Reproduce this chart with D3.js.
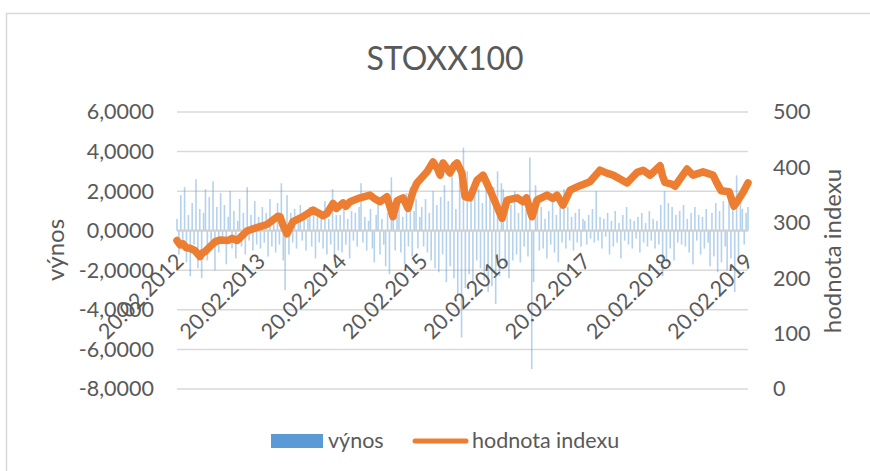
<!DOCTYPE html>
<meta charset='utf-8'>
<style>
    body { margin: 0; background: #fff; }
    text { font-family: Lato, 'Liberation Sans', sans-serif; fill: #595959; }
</style>
<body>
<div id='chart'></div>
<script src='https://d3js.org/d3.v7.min.js'></script>
<script>
    // tick labels
    const xTickLabels = [ '20.02.2012', '20.02.2013', '20.02.2014', '20.02.2015', '20.02.2016', '20.02.2017', '20.02.2018', '20.02.2019' ];
    const leftTicks = [ 6, 4, 2, 0, -2, -4, -6, -8 ];
    const rightTicks = [ 0, 100, 200, 300, 400, 500 ];

    // hodnota indexu
    const indexDates = [
        '2012-02-20', '2012-03-05', '2012-03-18', '2012-04-02', '2012-04-18', '2012-05-10', '2012-06-02', '2012-06-14',
        '2012-06-25', '2012-07-17', '2012-08-10', '2012-08-31', '2012-10-06', '2012-10-25', '2012-11-16', '2012-12-30',
        '2013-01-25', '2013-02-27', '2013-03-30', '2013-04-26', '2013-05-20', '2013-05-28', '2013-06-10', '2013-06-28',
        '2013-07-25', '2013-09-08', '2013-10-23', '2013-12-07', '2013-12-25', '2014-01-21', '2014-02-05', '2014-03-07',
        '2014-03-20', '2014-04-07', '2014-05-22', '2014-07-06', '2014-07-25', '2014-08-20', '2014-09-20', '2014-10-17',
        '2014-11-05', '2014-12-01', '2014-12-24', '2015-01-15', '2015-02-02', '2015-03-19', '2015-04-15', '2015-05-05',
        '2015-05-17', '2015-05-30', '2015-06-30', '2015-07-20', '2015-08-01', '2015-08-23', '2015-09-06', '2015-09-28',
        '2015-10-30', '2015-11-26', '2015-12-27', '2016-01-28', '2016-02-19', '2016-03-13', '2016-04-27', '2016-05-23',
        '2016-06-08', '2016-06-27', '2016-07-03', '2016-07-25', '2016-09-08', '2016-10-05', '2016-10-23', '2016-11-19',
        '2016-12-21', '2017-02-03', '2017-03-20', '2017-05-04', '2017-06-01', '2017-07-02', '2017-09-03', '2017-10-18',
        '2017-11-14', '2017-12-15', '2018-01-29', '2018-02-09', '2018-02-20', '2018-03-22', '2018-04-06', '2018-05-30',
        '2018-06-26', '2018-08-10', '2018-09-24', '2018-10-11', '2018-10-30', '2018-12-05', '2018-12-27', '2019-01-10',
        '2019-02-06', '2019-02-28'
    ];
    const indexValues = [
        268, 260, 262, 255, 254, 250, 239, 246,
        248, 257, 266, 269, 268, 272, 268, 285,
        289, 293, 297, 305, 312, 311, 296, 280,
        302, 311, 323, 313, 317, 335, 326, 336,
        330, 338, 345, 350, 344, 338, 347, 311,
        340, 345, 326, 356, 372, 392, 410, 398,
        386, 408, 390, 404, 408, 390, 347, 345,
        377, 386, 359, 329, 308, 341, 345, 338,
        345, 318, 311, 341, 350, 344, 350, 332,
        359, 367, 374, 395, 390, 386, 372, 391,
        395, 386, 403, 385, 373, 370, 366, 397,
        386, 392, 386, 372, 358, 356, 330, 338,
        355, 372
    ];

    // výnos, evenly spread from returnStart to returnEnd
    const returnStart = '2012-02-20', returnEnd = '2019-02-28';
    const returnValues = [
        0.6, -1.2, 1.8, -0.9, 2.2, -1.6, 0.8, -2.3, 1.4, -0.7, 2.6, -1.9, 1.1, -2.4, 0.9, 2.1, -1.5, 1.7, -0.8, 2.5, -2.0, 1.2,
        -1.1, 1.9, -0.6, 1.3, -1.7, 0.7, 2.0, -0.9, 1.0, -1.4, 0.5, 1.6, -0.8, 0.9, -1.2, 2.2, -0.5, 0.8, -1.0, 1.5, -0.7,
        0.7, -0.9, 1.2, -0.6, 0.9, -1.3, 1.6, -0.8, 0.5, -1.1, 1.4, -0.7, 2.4, -1.5, -3.0, 1.8, -1.2, 0.9, -0.6, 1.1, -0.9, 0.7,
        1.3, -0.5, 0.8, -1.0, 0.6, 1.2, -0.8, 0.9, -1.4, 0.7, -0.6, 1.0, -0.9, 1.5, -1.2, 0.6, -0.7, 2.1, -1.6, 0.8, -1.0,
        0.8, -1.1, 1.3, -0.7, 0.6, -1.4, 1.0, -0.5, 0.9, -0.8, 1.2, 2.4, -0.6, 0.7, -1.0, 0.5, 1.1, -0.9, -1.6, 0.8, 1.4, -1.2,
        0.6, -0.7, -1.8, 0.9, -2.2, 2.7, 1.3, -1.0, 0.8, 1.5, -1.1, 0.7, -1.7, 1.9, -0.8, 2.2, -1.3, 1.0, 1.6, -0.9, 0.7,
        1.2, -0.8, 1.6, -1.1, 0.9, -1.5, 2.0, -1.9, 1.3, -2.1, 1.7, -1.2, 2.3, -2.6, 1.5, -1.8, 2.8, -2.4, 1.1, -3.2, 2.5, -5.4,
        4.2, -2.9, 3.0, -2.2, 1.8, -2.7, 2.6, -1.5, 2.1, -1.9, 1.4, -2.5, 2.7, -3.1, 1.9, -2.8, 2.2, -3.7, 3.0, -2.3, 2.4,
        2.1, -1.8, 1.6, -2.4, 1.3, -1.5, 2.0, -1.2, 0.9, -1.6, 1.4, -0.8, 1.1, -1.3, 3.7, -7.0, -2.6, 2.3, 1.8, -1.0, 1.2, -0.9,
        0.6, -1.4, 1.0, -0.7, 1.5, -1.1, 0.8, -1.6, 1.3, -0.6, 2.1, -0.9, 1.2, -0.5, 0.7, -1.0, 0.9, -0.6, 1.1, -0.8, 0.6,
        0.5, -0.7, 0.8, -0.4, 1.1, -0.6, 2.0, -0.5, 0.7, -0.9, 0.6, -0.3, 0.9, -1.2, 0.5, -0.8, 1.0, -0.6, 0.4, -1.4, 0.8, -0.5,
        1.2, -0.7, 0.6, -0.9, 0.5, -0.4, 0.7, -1.1, 0.9, -0.6, 0.4, -0.8, 1.0, -0.5, 0.6, -0.9, 0.5, -0.7, 1.3, -2.3, 2.0,
        -1.6, 1.4, -0.9, 1.2, -1.5, 0.8, -0.6, 1.0, -0.7, 1.3, -0.8, 0.6, -1.1, 0.9, -1.7, 1.2, -0.5, 0.8, -1.2, 0.7, -0.9, 1.1,
        -0.6, -1.8, 0.9, -1.3, 1.4, -2.1, 1.0, -1.6, 1.5, -0.8, -2.0, 1.8, -1.4, 1.2, -3.1, 2.8, -1.5, 1.6, 1.1, -0.7, 0.9, 1.2
    ];

    const width = 870, height = 471;
    const plot = { left: 177, right: 748, top: 112, bottom: 389 };
    const blue = '#5B9BD5', orange = '#ED7D31', grid = '#D9D9D9';

    const parseIso = d3.timeParse( '%Y-%m-%d' );
    const parseCz = d3.timeParse( '%d.%m.%Y' );
    const fmt = d3.formatLocale( { decimal: ',', thousands: ' ', grouping: [3], currency: [ '', '' ], minus: '-' } ).format( '.4f' );

    const x = d3.scaleTime()
        .domain( [ parseIso( returnStart ), parseIso( returnEnd ) ] )
        .range( [ plot.left, plot.right ] );
    const yL = d3.scaleLinear().domain( [ -8, 6 ] ).range( [ plot.bottom, plot.top ] );
    const yR = d3.scaleLinear().domain( [ 0, 500 ] ).range( [ plot.bottom, plot.top ] );

    const svg = d3.select( '#chart' ).append( 'svg' )
        .attr( 'width', width )
        .attr( 'height', height );

    // chart border
    svg.append( 'rect' )
        .attr( 'x', 6.5 ).attr( 'y', 13.5 )
        .attr( 'width', 900 ).attr( 'height', 500 )
        .attr( 'fill', 'none' )
        .attr( 'stroke', grid )
        .attr( 'stroke-width', 1.5 );

    // title
    svg.append( 'text' )
        .attr( 'x', 445 ).attr( 'y', 70 )
        .attr( 'text-anchor', 'middle' )
        .style( 'font-size', '32px' )
        .text( 'STOXX100' );

    // gridlines
    svg.append( 'g' ).selectAll( 'line' )
        .data( leftTicks.filter( d => d !== 0 ) )
        .join( 'line' )
            .attr( 'x1', plot.left ).attr( 'x2', plot.right )
            .attr( 'y1', d => yL( d ) ).attr( 'y2', d => yL( d ) )
            .attr( 'stroke', grid )
            .attr( 'stroke-width', 1.5 );

    // returns bars
    const t0 = parseIso( returnStart ).getTime(), t1 = parseIso( returnEnd ).getTime();
    const returns = returnValues.map( ( v, i ) => ( {
        date: new Date( t0 + ( t1 - t0 ) * i / ( returnValues.length - 1 ) ),
        value: v
    } ) );
    svg.append( 'g' ).selectAll( 'rect' )
        .data( returns )
        .join( 'rect' )
            .attr( 'x', d => x( d.date ) - 0.8 )
            .attr( 'width', 1.6 )
            .attr( 'y', d => yL( Math.max( 0, d.value ) ) )
            .attr( 'height', d => Math.abs( yL( d.value ) - yL( 0 ) ) )
            .attr( 'fill', blue )
            .attr( 'fill-opacity', 0.45 );

    // category axis line at 0
    svg.append( 'line' )
        .attr( 'x1', plot.left ).attr( 'x2', plot.right )
        .attr( 'y1', yL( 0 ) ).attr( 'y2', yL( 0 ) )
        .attr( 'stroke', '#D0D0D0' )
        .attr( 'stroke-width', 2.2 );

    // index line
    const index = indexDates.map( ( d, i ) => ( { date: parseIso( d ), value: indexValues[ i ] } ) );
    svg.append( 'path' )
        .datum( index )
        .attr( 'fill', 'none' )
        .attr( 'stroke', orange )
        .attr( 'stroke-width', 7.5 )
        .attr( 'stroke-linejoin', 'round' )
        .attr( 'stroke-linecap', 'round' )
        .attr( 'd', d3.line().x( d => x( d.date ) ).y( d => yR( d.value ) ) );

    // left axis
    const leftAxis = svg.append( 'g' )
        .attr( 'transform', `translate( ${plot.left}, 0 )` )
        .call( d3.axisLeft( yL ).tickValues( leftTicks ).tickFormat( fmt ).tickSize( 0 ).tickPadding( 23 ) );
    // right axis
    const rightAxis = svg.append( 'g' )
        .attr( 'transform', `translate( ${plot.right}, 0 )` )
        .call( d3.axisRight( yR ).tickValues( rightTicks ).tickSize( 0 ).tickPadding( 25 ) );
    [ leftAxis, rightAxis ].forEach( g => {
        g.select( '.domain' ).remove();
        g.selectAll( 'text' )
            .attr( 'fill', '#595959' )
            .style( 'font-family', 'Lato, sans-serif' )
            .style( 'font-size', '21.5px' );
    } );

    // date labels
    svg.append( 'g' ).selectAll( 'text' )
        .data( xTickLabels )
        .join( 'text' )
            .attr( 'transform', d => `translate( ${x( parseCz( d ) ) + 8}, ${yL( 0 ) + 32} ) rotate( -45 )` )
            .attr( 'text-anchor', 'end' )
            .style( 'font-size', '21.5px' )
            .text( d => d );

    // axis titles
    svg.append( 'text' )
        .attr( 'transform', `translate( 64, 250 ) rotate( -90 )` )
        .attr( 'text-anchor', 'middle' )
        .style( 'font-size', '24px' )
        .text( 'výnos' );
    svg.append( 'text' )
        .attr( 'transform', `translate( 841, 251 ) rotate( -90 )` )
        .attr( 'text-anchor', 'middle' )
        .style( 'font-size', '24px' )
        .text( 'hodnota indexu' );

    // legend
    const legend = svg.append( 'g' );
    legend.append( 'rect' )
        .attr( 'x', 271 ).attr( 'y', 434 )
        .attr( 'width', 52 ).attr( 'height', 14 )
        .attr( 'fill', blue );
    legend.append( 'text' )
        .attr( 'x', 328 ).attr( 'y', 448 )
        .style( 'font-size', '21.5px' )
        .text( 'výnos' );
    legend.append( 'line' )
        .attr( 'x1', 415 ).attr( 'x2', 466 )
        .attr( 'y1', 441 ).attr( 'y2', 441 )
        .attr( 'stroke', orange )
        .attr( 'stroke-width', 5 )
        .attr( 'stroke-linecap', 'round' );
    legend.append( 'text' )
        .attr( 'x', 472 ).attr( 'y', 448 )
        .style( 'font-size', '21.5px' )
        .text( 'hodnota indexu' );
</script>
</body>
